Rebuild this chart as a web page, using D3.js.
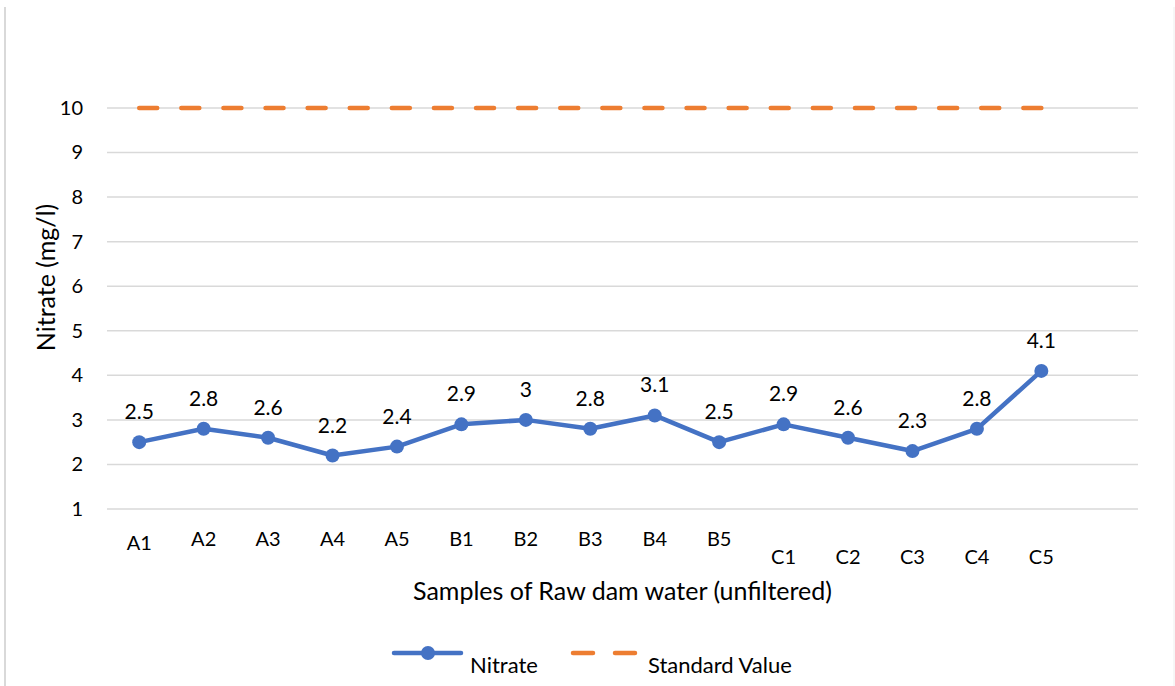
<!DOCTYPE html>
<html>
<head>
<meta charset="utf-8">
<script src="https://cdn.jsdelivr.net/npm/d3@7"></script>
<style>
  html, body { margin: 0; padding: 0; background: #fff; }
  svg { display: block; font-family: Lato, "Open Sans", sans-serif; }
</style>
</head>
<body>
<svg id="chart" width="1175" height="686"></svg>
<script>
// Sample identifiers along the x axis
const samples = ["A1","A2","A3","A4","A5","B1","B2","B3","B4","B5","C1","C2","C3","C4","C5"];
// Measured nitrate concentration (mg/l)
const nitrate = [2.5, 2.8, 2.6, 2.2, 2.4, 2.9, 3, 2.8, 3.1, 2.5, 2.9, 2.6, 2.3, 2.8, 4.1];
// Permissible standard value (mg/l)
const standardValue = [10, 10, 10, 10, 10, 10, 10, 10, 10, 10, 10, 10, 10, 10, 10];
// Y axis ticks
const yTicks = [1, 2, 3, 4, 5, 6, 7, 8, 9, 10];

const svg = d3.select("#chart");
const W = 1175, H = 686;
const margin = { left: 107, right: 37, top: 108, bottom: 177 };

const blue = "#4472C4", orange = "#ED7D31", grid = "#d9d9d9", textCol = "#000";

// Outer frame edges
svg.append("line").attr("x1", 5).attr("x2", 5).attr("y1", 7).attr("y2", H)
  .attr("stroke", grid).attr("stroke-width", 2);
svg.append("line").attr("x1", 1174).attr("x2", 1174).attr("y1", 7).attr("y2", H)
  .attr("stroke", "#eeeeee").attr("stroke-width", 1);

// One trailing empty slot keeps the category spacing of the plot area
const slots = samples.concat([""]);
const x = d3.scaleBand().domain(slots).range([margin.left, W - margin.right]);
const cx = d => x(d) + x.bandwidth() / 2;
const y = d3.scaleLinear().domain([1, 10]).range([H - margin.bottom, margin.top]);

// Horizontal gridlines
svg.append("g").selectAll("line").data(yTicks).join("line")
  .attr("x1", margin.left).attr("x2", W - margin.right)
  .attr("y1", d => y(d)).attr("y2", d => y(d))
  .attr("stroke", grid).attr("stroke-width", 1.5);

// Y axis tick labels
const yAxis = d3.axisLeft(y).tickValues(yTicks).tickSize(0).tickPadding(24).tickFormat(d3.format("d"));
const gy = svg.append("g").attr("transform", `translate(${margin.left},0)`).call(yAxis);
gy.select(".domain").remove();
gy.selectAll("text").attr("font-size", 20).attr("fill", textCol).attr("font-family", "Lato, sans-serif");

// X axis category labels (the C group sits one line lower)
const xAxis = d3.axisBottom(x).tickValues(samples).tickSize(0).tickPadding(20);
const gx = svg.append("g").attr("transform", `translate(0,${H - margin.bottom})`).call(xAxis);
gx.select(".domain").remove();
gx.selectAll("text").attr("font-size", 20).attr("fill", textCol).attr("font-family", "Lato, sans-serif")
  .attr("dy", d => d.startsWith("C") ? "1.75em" : (d === "A1" ? "1.05em" : "0.85em"));

// Axis titles
svg.append("text").attr("x", (margin.left + W - margin.right) / 2).attr("y", 600)
  .attr("text-anchor", "middle").attr("font-size", 25).attr("fill", textCol)
  .text("Samples of Raw dam water (unfiltered)");
svg.append("text").attr("transform", `translate(55,${(y(1) + y(10)) / 2 - 31}) rotate(-90)`)
  .attr("text-anchor", "middle").attr("font-size", 25).attr("fill", textCol)
  .text("Nitrate (mg/l)");

// Standard value: dashed orange line, pattern fitted so it ends on a dash
const stdLine = d3.line().x((d, i) => cx(samples[i])).y(d => y(d));
const stdPath = svg.append("path").datum(standardValue).attr("d", stdLine)
  .attr("fill", "none").attr("stroke", orange).attr("stroke-width", 4.5)
  .attr("stroke-linecap", "round");
const dashLen = 18;
const totalLen = stdPath.node().getTotalLength();
const nDash = Math.round((totalLen - dashLen) / 43);
const gapLen = (totalLen - dashLen) / nDash - dashLen;
stdPath.attr("stroke-dasharray", `${dashLen} ${gapLen}`);

// Nitrate series: solid blue line with round markers
const nLine = d3.line().x((d, i) => cx(samples[i])).y(d => y(d));
svg.append("path").datum(nitrate).attr("d", nLine)
  .attr("fill", "none").attr("stroke", blue).attr("stroke-width", 4.5)
  .attr("stroke-linejoin", "round");
svg.append("g").selectAll("circle").data(nitrate).join("circle")
  .attr("cx", (d, i) => cx(samples[i])).attr("cy", d => y(d)).attr("r", 7)
  .attr("fill", blue);

// Value labels above the markers
svg.append("g").selectAll("text").data(nitrate).join("text")
  .attr("x", (d, i) => cx(samples[i])).attr("y", d => y(d) - 23)
  .attr("text-anchor", "middle").attr("font-size", 21).attr("fill", textCol)
  .text(d => d3.format("")(d));

// Legend
const lg = svg.append("g").attr("transform", "translate(0,653)");
lg.append("line").attr("x1", 394).attr("x2", 461).attr("y1", 0).attr("y2", 0)
  .attr("stroke", blue).attr("stroke-width", 4.5).attr("stroke-linecap", "round");
lg.append("circle").attr("cx", 428).attr("cy", 0).attr("r", 7).attr("fill", blue);
lg.append("text").attr("x", 470).attr("y", 20).attr("font-size", 22).attr("fill", textCol).text("Nitrate");
lg.append("line").attr("x1", 573).attr("x2", 636).attr("y1", 0).attr("y2", 0)
  .attr("stroke", orange).attr("stroke-width", 4.5).attr("stroke-linecap", "round")
  .attr("stroke-dasharray", "20 22");
lg.append("text").attr("x", 648).attr("y", 20).attr("font-size", 22).attr("fill", textCol).text("Standard Value");
</script>
</body>
</html>
